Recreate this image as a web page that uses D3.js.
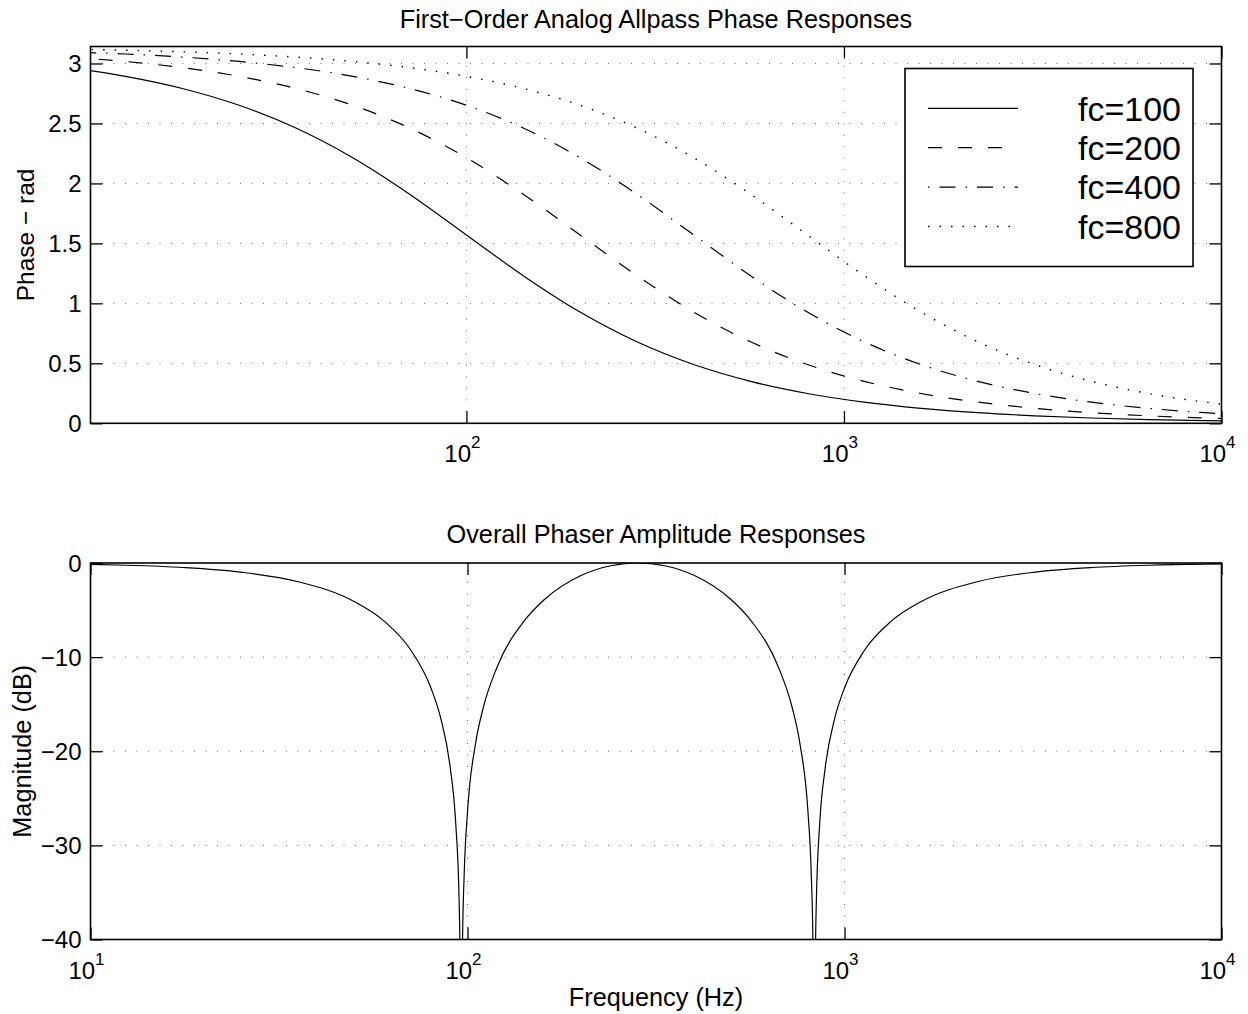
<!DOCTYPE html>
<html>
<head>
<meta charset="utf-8">
<script src="https://cdn.jsdelivr.net/npm/d3@7"></script>
<style>
  html, body { margin: 0; padding: 0; background: #fff; }
  svg { display: block; font-family: "Liberation Sans", Arial, Helvetica, sans-serif; }
</style>
</head>
<body>
<svg id="chart" width="1248" height="1014"></svg>
<script>
// ---------------- data ----------------
const freqPhase = [8.84, 12.5, 17.68, 25, 35.36, 50, 70.71, 100, 141.4, 200, 282.8, 400,
                   565.7, 800, 1131, 1600, 2263, 3200, 4525, 6400, 9051, 12800];
const phaseFc100 = [2.9653, 2.8929, 2.7917, 2.6516, 2.4619, 2.2143, 1.9106, 1.5708, 1.2310, 0.9273, 0.6797,
                    0.4900, 0.3499, 0.2487, 0.1763, 0.1248, 0.0883, 0.0625, 0.0442, 0.0313, 0.0221, 0.0156];
const phaseFc200 = [3.0533, 3.0168, 2.9653, 2.8929, 2.7917, 2.6516, 2.4619, 2.2143, 1.9106, 1.5708, 1.2310,
                    0.9273, 0.6797, 0.4900, 0.3499, 0.2487, 0.1763, 0.1248, 0.0883, 0.0625, 0.0442, 0.0313];
const phaseFc400 = [3.0974, 3.0791, 3.0533, 3.0168, 2.9653, 2.8929, 2.7917, 2.6516, 2.4619, 2.2143, 1.9106,
                    1.5708, 1.2310, 0.9273, 0.6797, 0.4900, 0.3499, 0.2487, 0.1763, 0.1248, 0.0883, 0.0625];
const phaseFc800 = [3.1195, 3.1103, 3.0974, 3.0791, 3.0533, 3.0168, 2.9653, 2.8929, 2.7917, 2.6516, 2.4619,
                    2.2143, 1.9106, 1.5708, 1.2310, 0.9273, 0.6797, 0.4900, 0.3499, 0.2487, 0.1763, 0.1248];
const legendLabels = ["fc=100", "fc=200", "fc=400", "fc=800"];

const freqMag = [10, 12.5, 17.68, 25, 35.36, 50, 60, 70.71, 80, 85, 90, 93, 95, 96, 96.25, 97, 98, 100,
                 105, 110, 120, 141.4, 160, 200, 240, 282.8, 333.3, 400, 500, 565.7, 666.7, 727.3,
                 761.9, 800, 816.3, 824.7, 831.2, 833.3, 842.1, 860.2, 888.9, 941.2, 1000, 1131,
                 1333, 1600, 2263, 3200, 4525, 6400, 9051, 10000];
const magDb = [-0.153, -0.239, -0.480, -0.966, -1.962, -4.080, -6.148, -9.241, -13.28, -16.56, -21.76,
               -27.49, -35.81, -49.6, -70, -40.43, -33.04, -26.45, -19.22, -15.43, -10.99, -6.154, -3.881,
               -1.336, -0.292, 0, -0.292, -1.336, -3.881, -6.154, -10.99, -15.43, -19.22, -26.45, -33.04,
               -40.43, -70, -49.6, -35.81, -27.49, -21.76, -16.56, -13.28, -9.241, -6.148, -4.080, -1.962,
               -0.966, -0.480, -0.239, -0.1195, -0.098];

const phaseTicks = [0, 0.5, 1, 1.5, 2, 2.5, 3];
const magTicks = [0, -10, -20, -30, -40];
const decadeTicks = [10, 100, 1000, 10000];

// ---------------- layout ----------------
const svg = d3.select("#chart");
const L = 90.5, R = 1221.5;
const top1 = 46.5, bot1 = 423.3;
const top2 = 563, bot2 = 939.5;
const FONT = 24;
const LABEL = 25.3;

const x1 = d3.scaleLog().domain([10.1, 10000]).range([L, R]);
const y1 = d3.scaleLinear().domain([0, Math.PI]).range([bot1, top1]);
const x2 = d3.scaleLog().domain([10, 10000]).range([L, R]);
const y2 = d3.scaleLinear().domain([-40, 0]).range([bot2, top2]);

const fmtNum = d => (d < 0 ? "\u2212" + Math.abs(d) : String(d));

function clip(id, y0, y1b) {
  svg.append("clipPath").attr("id", id).append("rect")
    .attr("x", L).attr("y", y0).attr("width", R - L).attr("height", y1b - y0);
}
clip("c1", top1, bot1);
clip("c2", top2, bot2);

function panel(xs, ys, yTicks, yTop, yBot) {
  const g = svg.append("g");
  // grid
  const grid = g.append("g").attr("stroke", "#000").attr("stroke-width", 1)
    .attr("stroke-dasharray", "1,10.5").attr("opacity", 0.55);
  decadeTicks.filter(t => xs(t) > L + 2 && xs(t) < R - 2).forEach(t => {
    grid.append("line").attr("x1", xs(t)).attr("x2", xs(t)).attr("y1", yBot).attr("y2", yTop);
  });
  yTicks.filter(t => ys(t) > yTop + 2 && ys(t) < yBot - 2).forEach(t => {
    grid.append("line").attr("x1", L).attr("x2", R).attr("y1", ys(t)).attr("y2", ys(t));
  });
  const inRangeX = decadeTicks.filter(t => t >= xs.domain()[0] && t <= xs.domain()[1]);
  // axes (ticks inside, on all four sides)
  const axB = g.append("g").attr("transform", `translate(0,${yBot})`)
    .call(d3.axisBottom(xs).tickValues(inRangeX).tickSize(-12).tickFormat(""));
  const axT = g.append("g").attr("transform", `translate(0,${yTop})`)
    .call(d3.axisTop(xs).tickValues(inRangeX).tickSize(-12).tickFormat(""));
  const axL = g.append("g").attr("transform", `translate(${L},0)`)
    .call(d3.axisLeft(ys).tickValues(yTicks).tickSize(-12).tickFormat(""));
  const axRt = g.append("g").attr("transform", `translate(${R},0)`)
    .call(d3.axisRight(ys).tickValues(yTicks).tickSize(-12).tickFormat(""));
  [axB, axT, axL, axRt].forEach(a => {
    a.select(".domain").remove();
    a.selectAll("line").attr("stroke", "#000").attr("stroke-width", 1.3);
  });
  g.append("rect").attr("x", L).attr("y", yTop).attr("width", R - L).attr("height", yBot - yTop)
    .attr("fill", "none").attr("stroke", "#000").attr("stroke-width", 1.6);
  // y tick labels
  yTicks.forEach(t => {
    g.append("text").attr("x", 81.5).attr("y", ys(t) + 8.5).attr("text-anchor", "end")
      .attr("font-size", FONT).text(fmtNum(t));
  });
  // x tick labels 10^n
  inRangeX.forEach(t => {
    const e = Math.round(Math.log10(t));
    const tx = g.append("text").attr("x", xs(t) - 4).attr("y", yBot + 39)
      .attr("text-anchor", "middle").attr("font-size", FONT);
    tx.append("tspan").text("10");
    tx.append("tspan").attr("dy", -14).attr("font-size", 17).text(String(e));
  });
  return g;
}

// ---------------- top panel ----------------
const g1 = panel(x1, y1, phaseTicks, top1, bot1);
const series = [phaseFc100, phaseFc200, phaseFc400, phaseFc800];
const dashes = [null, "14,16", "1.5,10,16,10", "1.5,10"];
const line1 = d3.line().x((d, i) => x1(freqPhase[i])).y(d => y1(d)).curve(d3.curveMonotoneX);
series.forEach((s, k) => {
  g1.append("path").attr("d", line1(s)).attr("clip-path", "url(#c1)")
    .attr("fill", "none").attr("stroke", "#000").attr("stroke-width", k === 3 ? 1.4 : 1.2)
    .attr("stroke-dasharray", dashes[k]);
});
svg.append("text").attr("x", (L + R) / 2).attr("y", 27.5).attr("text-anchor", "middle")
  .attr("font-size", LABEL).text("First\u2212Order Analog Allpass Phase Responses");
svg.append("text").attr("transform", `translate(34,${(top1 + bot1) / 2}) rotate(-90)`)
  .attr("text-anchor", "middle").attr("font-size", 24.5).text("Phase \u2212 rad");

// legend
const lg = svg.append("g");
lg.append("rect").attr("x", 905).attr("y", 68.5).attr("width", 288).attr("height", 198)
  .attr("fill", "#fff").attr("stroke", "#000").attr("stroke-width", 1.6);
legendLabels.forEach((lab, k) => {
  const yy = 108.3 + k * 39.4;
  lg.append("line").attr("x1", 928).attr("x2", 1018).attr("y1", yy).attr("y2", yy)
    .attr("stroke", "#000").attr("stroke-width", k === 3 ? 1.4 : 1.2).attr("stroke-dasharray", dashes[k]);
  lg.append("text").attr("x", 1181).attr("y", yy + 12.3).attr("text-anchor", "end")
    .attr("font-size", 34).text(lab);
});

// ---------------- bottom panel ----------------
const g2 = panel(x2, y2, magTicks, top2, bot2);
const line2 = d3.line().x((d, i) => x2(freqMag[i])).y(d => y2(d)).curve(d3.curveMonotoneX);
g2.append("path").attr("d", line2(magDb)).attr("clip-path", "url(#c2)")
  .attr("fill", "none").attr("stroke", "#000").attr("stroke-width", 1.2);
svg.append("text").attr("x", (L + R) / 2).attr("y", 543).attr("text-anchor", "middle")
  .attr("font-size", LABEL).text("Overall Phaser Amplitude Responses");
svg.append("text").attr("x", (L + R) / 2).attr("y", 1006).attr("text-anchor", "middle")
  .attr("font-size", LABEL).text("Frequency (Hz)");
svg.append("text").attr("transform", `translate(31,${(top2 + bot2) / 2}) rotate(-90)`)
  .attr("text-anchor", "middle").attr("font-size", LABEL).text("Magnitude (dB)");
</script>
</body>
</html>
